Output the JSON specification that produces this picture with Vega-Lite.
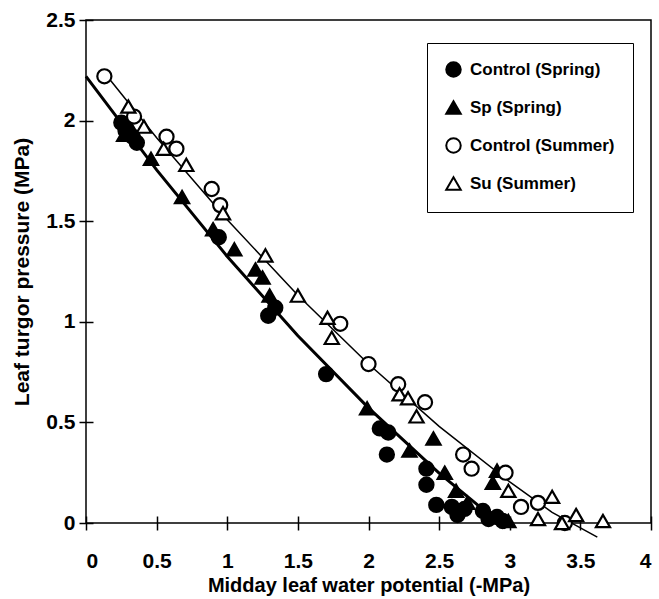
{
  "$schema": "https://vega.github.io/schema/vega-lite/v6.json",
  "width": 565,
  "height": 503,
  "autosize": {"type": "none"},
  "padding": {"left": 86, "top": 20, "right": 8, "bottom": 76},
  "background": "white",
  "config": {
    "view": {"stroke": "black", "strokeWidth": 1.5},
    "font": "Liberation Sans",
    "axis": {
      "grid": false,
      "domain": false,
      "tickColor": "black",
      "tickWidth": 1.5,
      "tickSize": 14,
      "offset": -7,
      "labelColor": "black",
      "labelFont": "Liberation Sans",
      "labelFontSize": 21,
      "labelFontWeight": "bold",
      "titleColor": "black",
      "titleFont": "Liberation Sans",
      "titleFontSize": 20,
      "titleFontWeight": "bold"
    },
    "legend": {
      "orient": "none",
      "legendX": 341,
      "legendY": 23,
      "padding": 18,
      "strokeColor": "black",
      "fillColor": "white",
      "labelFont": "Liberation Sans",
      "labelFontSize": 17,
      "labelFontWeight": "bold",
      "labelColor": "black",
      "symbolSize": 210,
      "symbolStrokeWidth": 2,
      "rowPadding": 16,
      "labelOffset": 8
    }
  },
  "datasets": {
    "fits": [
      {"fit": "Spring", "x": 0.0, "y": 2.22},
      {"fit": "Spring", "x": 0.5, "y": 1.755},
      {"fit": "Spring", "x": 1.0, "y": 1.325},
      {"fit": "Spring", "x": 1.5, "y": 0.931},
      {"fit": "Spring", "x": 2.0, "y": 0.572},
      {"fit": "Spring", "x": 2.5, "y": 0.248},
      {"fit": "Spring", "x": 2.97, "y": -0.025},
      {"fit": "Summer", "x": 0.15, "y": 2.22},
      {"fit": "Summer", "x": 0.5, "y": 1.915},
      {"fit": "Summer", "x": 1.0, "y": 1.507},
      {"fit": "Summer", "x": 1.5, "y": 1.132},
      {"fit": "Summer", "x": 2.0, "y": 0.79},
      {"fit": "Summer", "x": 2.5, "y": 0.48},
      {"fit": "Summer", "x": 3.0, "y": 0.204},
      {"fit": "Summer", "x": 3.3, "y": 0.053},
      {"fit": "Summer", "x": 3.62, "y": -0.07}
    ],
    "points": [
      {"series": "Control (Spring)", "x": 0.25, "y": 1.99},
      {"series": "Control (Spring)", "x": 0.28, "y": 1.95},
      {"series": "Control (Spring)", "x": 0.33, "y": 1.92},
      {"series": "Control (Spring)", "x": 0.36, "y": 1.89},
      {"series": "Control (Spring)", "x": 0.94, "y": 1.42},
      {"series": "Control (Spring)", "x": 1.29, "y": 1.03},
      {"series": "Control (Spring)", "x": 1.34, "y": 1.07},
      {"series": "Control (Spring)", "x": 1.70, "y": 0.74},
      {"series": "Control (Spring)", "x": 2.08, "y": 0.47},
      {"series": "Control (Spring)", "x": 2.14, "y": 0.45},
      {"series": "Control (Spring)", "x": 2.13, "y": 0.34},
      {"series": "Control (Spring)", "x": 2.41, "y": 0.27},
      {"series": "Control (Spring)", "x": 2.41, "y": 0.19},
      {"series": "Control (Spring)", "x": 2.48, "y": 0.09},
      {"series": "Control (Spring)", "x": 2.59, "y": 0.08},
      {"series": "Control (Spring)", "x": 2.63, "y": 0.04},
      {"series": "Control (Spring)", "x": 2.68, "y": 0.07},
      {"series": "Control (Spring)", "x": 2.81, "y": 0.06},
      {"series": "Control (Spring)", "x": 2.85, "y": 0.02},
      {"series": "Control (Spring)", "x": 2.91, "y": 0.03},
      {"series": "Control (Spring)", "x": 2.95, "y": 0.01},
      {"series": "Sp (Spring)", "x": 0.27, "y": 1.93},
      {"series": "Sp (Spring)", "x": 0.31, "y": 1.97},
      {"series": "Sp (Spring)", "x": 0.46, "y": 1.81},
      {"series": "Sp (Spring)", "x": 0.68, "y": 1.62},
      {"series": "Sp (Spring)", "x": 0.90, "y": 1.46},
      {"series": "Sp (Spring)", "x": 1.05, "y": 1.36},
      {"series": "Sp (Spring)", "x": 1.20, "y": 1.26},
      {"series": "Sp (Spring)", "x": 1.25, "y": 1.22},
      {"series": "Sp (Spring)", "x": 1.30, "y": 1.13},
      {"series": "Sp (Spring)", "x": 1.99, "y": 0.57},
      {"series": "Sp (Spring)", "x": 2.29, "y": 0.36},
      {"series": "Sp (Spring)", "x": 2.46, "y": 0.42},
      {"series": "Sp (Spring)", "x": 2.54, "y": 0.25},
      {"series": "Sp (Spring)", "x": 2.62, "y": 0.16},
      {"series": "Sp (Spring)", "x": 2.70, "y": 0.10},
      {"series": "Sp (Spring)", "x": 2.88, "y": 0.20},
      {"series": "Sp (Spring)", "x": 2.91, "y": 0.26},
      {"series": "Sp (Spring)", "x": 2.99, "y": 0.01},
      {"series": "Control (Summer)", "x": 0.13, "y": 2.22},
      {"series": "Control (Summer)", "x": 0.34, "y": 2.02},
      {"series": "Control (Summer)", "x": 0.57, "y": 1.92},
      {"series": "Control (Summer)", "x": 0.64, "y": 1.86},
      {"series": "Control (Summer)", "x": 0.89, "y": 1.66},
      {"series": "Control (Summer)", "x": 0.95, "y": 1.58},
      {"series": "Control (Summer)", "x": 1.80, "y": 0.99},
      {"series": "Control (Summer)", "x": 2.00, "y": 0.79},
      {"series": "Control (Summer)", "x": 2.21, "y": 0.69},
      {"series": "Control (Summer)", "x": 2.40, "y": 0.60},
      {"series": "Control (Summer)", "x": 2.67, "y": 0.34},
      {"series": "Control (Summer)", "x": 2.73, "y": 0.27},
      {"series": "Control (Summer)", "x": 2.97, "y": 0.25},
      {"series": "Control (Summer)", "x": 3.08, "y": 0.08},
      {"series": "Control (Summer)", "x": 3.20, "y": 0.10},
      {"series": "Control (Summer)", "x": 3.39, "y": 0.00},
      {"series": "Su (Summer)", "x": 0.30, "y": 2.07},
      {"series": "Su (Summer)", "x": 0.41, "y": 1.97},
      {"series": "Su (Summer)", "x": 0.55, "y": 1.86},
      {"series": "Su (Summer)", "x": 0.71, "y": 1.78},
      {"series": "Su (Summer)", "x": 0.97, "y": 1.54},
      {"series": "Su (Summer)", "x": 1.27, "y": 1.33},
      {"series": "Su (Summer)", "x": 1.50, "y": 1.13},
      {"series": "Su (Summer)", "x": 1.71, "y": 1.02},
      {"series": "Su (Summer)", "x": 1.74, "y": 0.92},
      {"series": "Su (Summer)", "x": 2.22, "y": 0.64},
      {"series": "Su (Summer)", "x": 2.28, "y": 0.62},
      {"series": "Su (Summer)", "x": 2.34, "y": 0.53},
      {"series": "Su (Summer)", "x": 2.99, "y": 0.16},
      {"series": "Su (Summer)", "x": 3.20, "y": 0.02},
      {"series": "Su (Summer)", "x": 3.30, "y": 0.13},
      {"series": "Su (Summer)", "x": 3.37, "y": 0.00},
      {"series": "Su (Summer)", "x": 3.47, "y": 0.04},
      {"series": "Su (Summer)", "x": 3.66, "y": 0.01}
    ]
  },
  "layer": [
    {
      "data": {"name": "fits"},
      "mark": {"type": "line", "color": "black"},
      "encoding": {
        "x": {"field": "x", "type": "quantitative", "scale": {"domain": [0, 4], "nice": false},
              "axis": {"values": [0, 0.5, 1, 1.5, 2, 2.5, 3, 3.5, 4], "format": "~g", "labelPadding": 20, "title": "Midday leaf water potential (-MPa)", "titlePadding": 4}},
        "y": {"field": "y", "type": "quantitative", "scale": {"domain": [0, 2.5], "nice": false},
              "axis": {"values": [0, 0.5, 1, 1.5, 2, 2.5], "format": "~g", "labelPadding": 4, "title": "Leaf turgor pressure (MPa)", "titlePadding": 13, "titleFontSize": 21}},
        "strokeWidth": {"field": "fit", "type": "nominal", "scale": {"domain": ["Spring", "Summer"], "range": [3, 1.5]}, "legend": null}
      }
    },
    {
      "data": {"name": "points"},
      "mark": {"type": "point", "size": 200, "strokeWidth": 2.2, "opacity": 1},
      "encoding": {
        "x": {"field": "x", "type": "quantitative"},
        "y": {"field": "y", "type": "quantitative"},
        "shape": {"field": "series", "type": "nominal",
                  "scale": {"domain": ["Control (Spring)", "Sp (Spring)", "Control (Summer)", "Su (Summer)"], "range": ["circle", "triangle-up", "circle", "triangle-up"]},
                  "legend": {"title": null}},
        "fill": {"field": "series", "type": "nominal",
                 "scale": {"domain": ["Control (Spring)", "Sp (Spring)", "Control (Summer)", "Su (Summer)"], "range": ["black", "black", "white", "white"]},
                 "legend": {"title": null}},
        "stroke": {"field": "series", "type": "nominal",
                   "scale": {"domain": ["Control (Spring)", "Sp (Spring)", "Control (Summer)", "Su (Summer)"], "range": ["black", "black", "black", "black"]},
                   "legend": {"title": null}}
      }
    }
  ]
}
